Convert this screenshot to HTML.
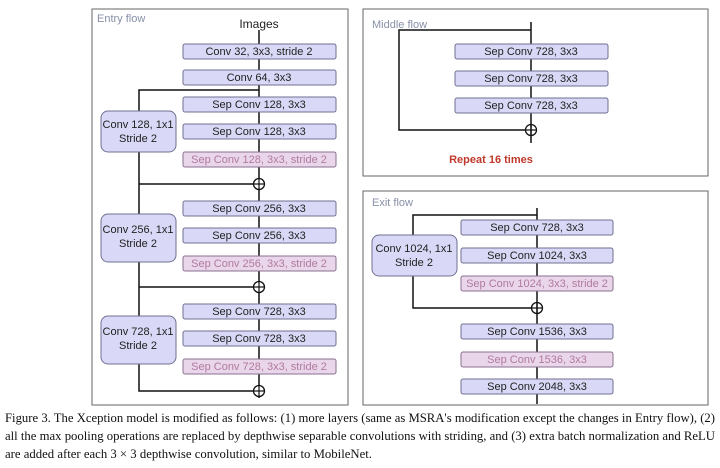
<!DOCTYPE html>
<html><head><meta charset="utf-8"><style>
html,body{margin:0;padding:0;background:#fff;}
svg{display:block;}
.b{fill:#d9d9f7;stroke:#6f6f90;stroke-width:1;}
.p{fill:#ead6ea;stroke:#8a7090;stroke-width:1;}
.t{font-family:"Liberation Sans",sans-serif;font-size:11px;fill:#222;text-anchor:middle;}
.tp{font-family:"Liberation Sans",sans-serif;font-size:11px;fill:#b07aa0;text-anchor:middle;}
.l{stroke:#111;stroke-width:1.5;fill:none;}
.f{fill:none;stroke:#666;stroke-width:1;}
.lab{font-family:"Liberation Sans",sans-serif;font-size:11px;fill:#8890a8;}
.cap{font-family:"Liberation Serif",serif;font-size:12.5px;fill:#111;}
</style></head><body>
<svg width="720" height="468" viewBox="0 0 720 468">
<!-- frames -->
<rect class="f" x="92" y="9" width="256" height="396"/>
<rect class="f" x="363" y="9" width="345" height="167"/>
<rect class="f" x="363" y="191" width="345" height="214"/>
<text class="lab" x="97" y="22">Entry  flow</text>
<text class="lab" x="372" y="28">Middle  flow</text>
<text class="lab" x="372" y="206">Exit  flow</text>

<!-- Entry flow lines -->
<line class="l" x1="259" y1="30" x2="259" y2="398"/>
<polyline class="l" points="259,90 139,90 139,391 259,391"/>
<line class="l" x1="139" y1="184" x2="259" y2="184"/>
<line class="l" x1="139" y1="287" x2="259" y2="287"/>
<text class="t" x="259" y="28" style="font-size:12px">Images</text>
<rect class="b" x="183" y="44" width="153" height="15" rx="2"/><text class="t" x="259" y="55">Conv 32, 3x3, stride 2</text>
<rect class="b" x="183" y="70" width="153" height="15" rx="2"/><text class="t" x="259" y="81">Conv 64, 3x3</text>

<rect class="b" x="183" y="97" width="153" height="15" rx="2"/><text class="t" x="259" y="108">Sep Conv 128, 3x3</text>
<rect class="b" x="183" y="124" width="153" height="15" rx="2"/><text class="t" x="259" y="135">Sep Conv 128, 3x3</text>
<rect class="p" x="183" y="152" width="153" height="15" rx="2"/><text class="tp" x="259" y="163">Sep Conv 128, 3x3, stride 2</text>
<rect class="b" x="101" y="111" width="75" height="41" rx="7"/><text class="t" x="138" y="128">Conv 128, 1x1</text><text class="t" x="138" y="142">Stride 2</text>

<rect class="b" x="183" y="201" width="153" height="15" rx="2"/><text class="t" x="259" y="212">Sep Conv 256, 3x3</text>
<rect class="b" x="183" y="228" width="153" height="15" rx="2"/><text class="t" x="259" y="239">Sep Conv 256, 3x3</text>
<rect class="p" x="183" y="256" width="153" height="15" rx="2"/><text class="tp" x="259" y="267">Sep Conv 256, 3x3, stride 2</text>
<rect class="b" x="101" y="214" width="75" height="48" rx="7"/><text class="t" x="138" y="233">Conv 256, 1x1</text><text class="t" x="138" y="247">Stride 2</text>

<rect class="b" x="183" y="304" width="153" height="15" rx="2"/><text class="t" x="259" y="315">Sep Conv 728, 3x3</text>
<rect class="b" x="183" y="331" width="153" height="15" rx="2"/><text class="t" x="259" y="342">Sep Conv 728, 3x3</text>
<rect class="p" x="183" y="359" width="153" height="15" rx="2"/><text class="tp" x="259" y="370">Sep Conv 728, 3x3, stride 2</text>
<rect class="b" x="101" y="316" width="75" height="48" rx="7"/><text class="t" x="138" y="335">Conv 728, 1x1</text><text class="t" x="138" y="349">Stride 2</text>

<g fill="#fff" stroke="#111" stroke-width="1.3">
<circle cx="259" cy="184" r="5.5"/><circle cx="259" cy="287" r="5.5"/><circle cx="259" cy="391" r="5.5"/>
<circle cx="531" cy="130" r="5.5"/><circle cx="537" cy="308" r="5.5"/>
</g>
<g stroke="#111" stroke-width="1.2">
<line x1="254" y1="184" x2="264" y2="184"/><line x1="259" y1="179" x2="259" y2="189"/>
<line x1="254" y1="287" x2="264" y2="287"/><line x1="259" y1="282" x2="259" y2="292"/>
<line x1="254" y1="391" x2="264" y2="391"/><line x1="259" y1="386" x2="259" y2="396"/>
<line x1="526" y1="130" x2="536" y2="130"/><line x1="531" y1="125" x2="531" y2="135"/>
<line x1="532" y1="308" x2="542" y2="308"/><line x1="537" y1="303" x2="537" y2="313"/>
</g>

<!-- Middle flow -->
<line class="l" x1="531" y1="22" x2="531" y2="143"/>
<polyline class="l" points="531,30 399,30 399,130 526,130"/>
<rect class="b" x="455" y="44" width="153" height="15" rx="2"/><text class="t" x="531" y="55">Sep Conv 728, 3x3</text>
<rect class="b" x="455" y="71" width="153" height="15" rx="2"/><text class="t" x="531" y="82">Sep Conv 728, 3x3</text>
<rect class="b" x="455" y="98" width="153" height="15" rx="2"/><text class="t" x="531" y="109">Sep Conv 728, 3x3</text>
<text x="491" y="163" style="font-family:'Liberation Sans',sans-serif;font-size:11px;font-weight:bold;fill:#c0392b;text-anchor:middle">Repeat 16 times</text>

<!-- Exit flow -->
<line class="l" x1="537" y1="208" x2="537" y2="404"/>
<polyline class="l" points="537,215 413,215 413,308 532,308"/>
<rect class="b" x="461" y="220" width="152" height="15" rx="2"/><text class="t" x="537" y="231">Sep Conv 728, 3x3</text>
<rect class="b" x="461" y="248" width="152" height="15" rx="2"/><text class="t" x="537" y="259">Sep Conv 1024, 3x3</text>
<rect class="p" x="461" y="276" width="152" height="15" rx="2"/><text class="tp" x="537" y="287">Sep Conv 1024, 3x3, stride 2</text>
<rect class="b" x="372" y="235" width="85" height="41" rx="7"/><text class="t" x="414" y="252">Conv 1024, 1x1</text><text class="t" x="414" y="266">Stride 2</text>
<rect class="b" x="461" y="324" width="152" height="15" rx="2"/><text class="t" x="537" y="335">Sep Conv 1536, 3x3</text>
<rect class="p" x="461" y="352" width="152" height="15" rx="2"/><text class="tp" x="537" y="363">Sep Conv 1536, 3x3</text>
<rect class="b" x="461" y="379" width="152" height="15" rx="2"/><text class="t" x="537" y="390">Sep Conv 2048, 3x3</text>

<!-- caption -->
<text class="cap" x="5" y="422" textLength="710" lengthAdjust="spacingAndGlyphs">Figure 3. The Xception model is modified as follows: (1) more layers (same as MSRA's modification except the changes in Entry flow), (2)</text>
<text class="cap" x="5" y="440" textLength="710" lengthAdjust="spacingAndGlyphs">all the max pooling operations are replaced by depthwise separable convolutions with striding, and (3) extra batch normalization and ReLU</text>
<text class="cap" x="5" y="458" textLength="367" lengthAdjust="spacingAndGlyphs">are added after each 3 × 3 depthwise convolution, similar to MobileNet.</text>
</svg>
</body></html>
